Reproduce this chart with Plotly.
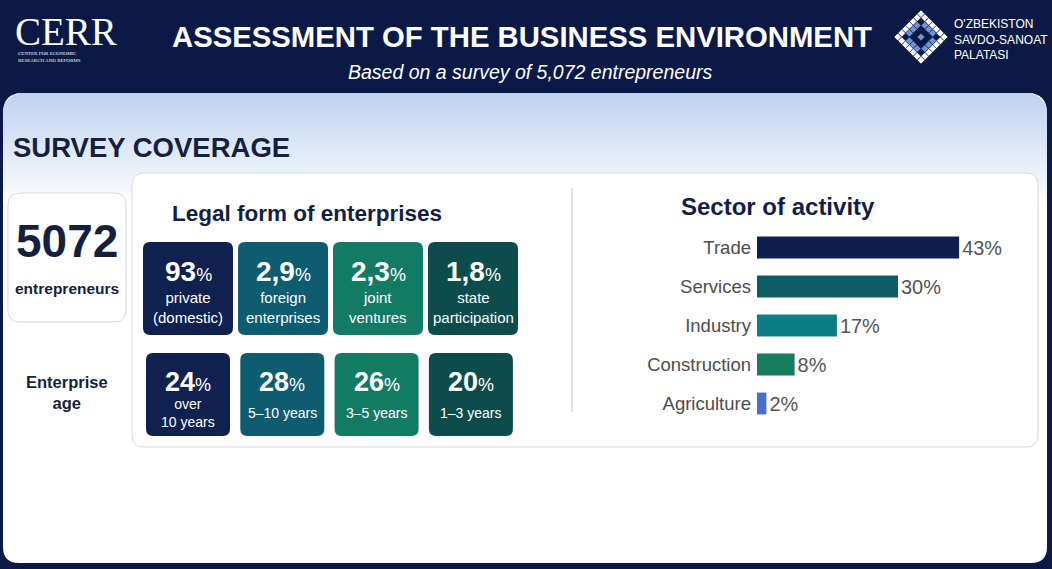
import math
import plotly.graph_objects as go

W, H = 1052, 569

# sector of activity, % of respondents
sectors = ["Trade", "Services", "Industry", "Construction", "Agriculture"]
sector_share = [43, 30, 17, 8, 2]
sector_colors = ["#0d1f4f", "#0c5d66", "#0e7e86", "#167d5f", "#4b6fcf"]

# legal form of enterprises
legal_values = ["93", "2,9", "2,3", "1,8"]
legal_labels = ["private<br>(domestic)", "foreign<br>enterprises", "joint<br>ventures", "state<br>participation"]

# enterprise age
age_values = ["24", "28", "26", "20"]
age_labels = ["over<br>10 years", "5–10 years", "3–5 years", "1–3 years"]

tile_colors = ["#10214f", "#0d5c70", "#137a63", "#0c4d4b"]
respondents = "5072"

NAVY = "#0b1946"
DARK = "#161f3d"
FONT = "Liberation Sans, Arial, sans-serif"
SERIF = "Liberation Serif, serif"


def px(x):
    return x / W


def py(y):
    return 1 - y / H


def pt(x, y):
    return f"{px(x):.5f},{py(y):.5f}"


def rrect(x0, y0, x1, y1, rt, rb=None):
    rb = rt if rb is None else rb
    return ("M" + pt(x0 + rt, y0) + " L" + pt(x1 - rt, y0) +
            " Q" + pt(x1, y0) + " " + pt(x1, y0 + rt) +
            " L" + pt(x1, y1 - rb) + " Q" + pt(x1, y1) + " " + pt(x1 - rb, y1) +
            " L" + pt(x0 + rb, y1) + " Q" + pt(x0, y1) + " " + pt(x0, y1 - rb) +
            " L" + pt(x0, y0 + rt) + " Q" + pt(x0, y0) + " " + pt(x0 + rt, y0) + " Z")


shapes = []


def add_path(path, fill, line="rgba(0,0,0,0)", lw=0):
    shapes.append(dict(type="path", path=path, xref="paper", yref="paper", layer="below",
                       fillcolor=fill, line=dict(color=line, width=lw)))


annotations = []


def note(text, x, y, size, color="white", font=FONT, xanchor="center", yanchor="middle"):
    annotations.append(dict(text=text, x=px(x), y=py(y), xref="paper", yref="paper",
                            xanchor=xanchor, yanchor=yanchor, showarrow=False,
                            align=xanchor if xanchor != "center" else "center",
                            font=dict(size=size, color=color, family=font)))


# white panel with light blue gradient on top
add_path(rrect(3, 93, 1047, 563, 20, 16), "white")
R = 20
for y in range(93, 205, 2):
    t = (y - 93) / (205 - 93)
    c = [int(a + (255 - a) * t) for a in (190, 211, 241)]
    dy = 93 + R - (y + 1)
    inset = R - math.sqrt(R * R - dy * dy) if dy > 0 else 0
    shapes.append(dict(type="rect", xref="paper", yref="paper", layer="below",
                       x0=px(3 + inset), x1=px(1047 - inset), y0=py(y), y1=py(y + 2.2),
                       fillcolor=f"rgb({c[0]},{c[1]},{c[2]})", line=dict(width=0)))

# boxes
add_path(rrect(8, 193, 126, 322, 12), "white", "#d6d9df", 1)
add_path(rrect(132, 173, 1038, 447, 12), "white", "#d6d9df", 1)
shapes.append(dict(type="line", xref="paper", yref="paper", layer="below",
                   x0=px(572), x1=px(572), y0=py(188), y1=py(412),
                   line=dict(color="#c9ccd2", width=1)))

# tiles
for i in range(4):
    x0 = 143 + i * 95
    add_path(rrect(x0, 242, x0 + 90, 335, 7), tile_colors[i])
    note(f"<b>{legal_values[i]}</b><span style='font-size:18px'>%</span>", x0 + 45, 271, 28)
    note(legal_labels[i], x0 + 45, 307, 15)
    x0 = 146 + i * 94.3
    add_path(rrect(x0, 353, x0 + 84, 436, 7), tile_colors[i])
    note(f"<b>{age_values[i]}</b><span style='font-size:18px'>%</span>", x0 + 42, 382, 27)
    note(age_labels[i], x0 + 42, 413, 14)

# right logo: diamond with a knot pattern
cx, cy, h = 921, 37, 27
pattern = ["1111111",
           "1022201",
           "1200021",
           "1202021",
           "1200021",
           "1022201",
           "1111111"]
n = len(pattern)


def dpt(u, v):
    return pt(cx + h * (u - v) / 2, cy + h * (u + v) / 2)


for i, row in enumerate(pattern):
    for j, ch in enumerate(row):
        if ch == "0":
            continue
        u0, u1 = -1 + 2 * i / n, -1 + 2 * (i + 1) / n
        v0, v1 = -1 + 2 * j / n, -1 + 2 * (j + 1) / n
        path = "M" + dpt(u0, v0) + " L" + dpt(u1, v0) + " L" + dpt(u1, v1) + " L" + dpt(u0, v1) + " Z"
        add_path(path, "white" if ch == "1" else "#6f95d9", NAVY, 0.6)

# header texts
note("CERR", 13, 31, 39, font=SERIF, xanchor="left")
note("CENTER FOR ECONOMIC<br>RESEARCH AND REFORMS", 16, 57, 5, font=SERIF, xanchor="left")
note("<b>ASSESSMENT OF THE BUSINESS ENVIRONMENT</b>", 522, 37, 29.3)
note("<i>Based on a survey of 5,072 entrepreneurs</i>", 530, 72, 19.5)
note("O'ZBEKISTON<br>SAVDO-SANOAT<br>PALATASI", 952, 39, 12, xanchor="left")

note("<b>SURVEY COVERAGE</b>", 11, 147, 27.5, color=DARK, xanchor="left")
note(f"<b>{respondents}</b>", 67, 241, 46, color=DARK)
note("<b>entrepreneurs</b>", 67, 288, 15.5, color=DARK)
note("<b>Enterprise<br>age</b>", 67, 392, 16.5, color=DARK)
note("<b>Legal form of enterprises</b>", 307, 214, 22.5, color="#131d45")
note("<b>Sector of activity</b>", 778, 207, 24, color="#131d45")

fig = go.Figure()
fig.add_trace(go.Bar(
    x=sector_share, y=sectors, orientation="h",
    marker=dict(color=sector_colors, line=dict(width=0)),
    width=0.56,
    text=[f"{v}%" for v in sector_share], textposition="outside",
    textfont=dict(size=21, color="#555555", family=FONT),
    cliponaxis=False, hoverinfo="skip",
))

fig.update_layout(
    width=W, height=H,
    margin=dict(l=0, r=0, t=0, b=0, pad=0),
    paper_bgcolor=NAVY, plot_bgcolor="rgba(0,0,0,0)",
    showlegend=False,
    font=dict(family=FONT),
    shapes=shapes, annotations=annotations,
    xaxis=dict(domain=[px(757), px(1040)], range=[0, 60.2], visible=False, fixedrange=True),
    yaxis=dict(domain=[py(423), py(228)], autorange="reversed", showgrid=False, zeroline=False,
               showline=False, ticks="", ticklabelstandoff=5,
               tickfont=dict(size=18.5, color="#4d4d4d", family=FONT), fixedrange=True),
)

fig.write_html("out.html", config={"displayModeBar": False},
               post_script="document.body.style.margin='0';")
